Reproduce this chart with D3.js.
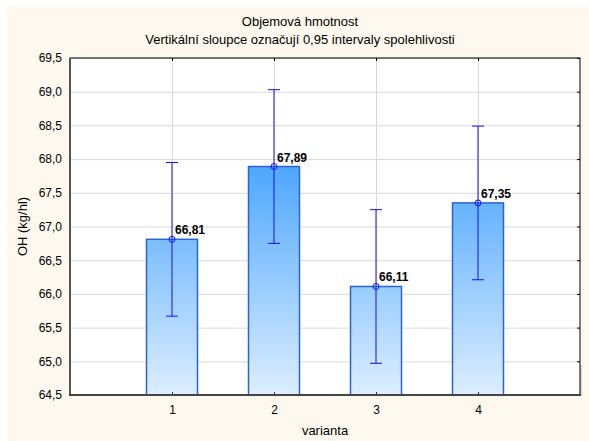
<!DOCTYPE html>
<html>
<head>
<meta charset="utf-8">
<script src="https://cdn.jsdelivr.net/npm/d3@7"></script>
<style>
  body { margin: 0; background: #fff; }
  text { font-family: "Liberation Sans", Arial, sans-serif; font-size: 12px; fill: #000; }
</style>
</head>
<body>
<div id="chart"></div>
<script>
const categories = [1, 2, 3, 4];
const means = [66.81, 67.89, 66.11, 67.35];
const lower = [65.67, 66.75, 64.97, 66.21];
const upper = [67.95, 69.03, 67.25, 68.49];
const yTicks = [64.5, 65.0, 65.5, 66.0, 66.5, 67.0, 67.5, 68.0, 68.5, 69.0, 69.5];
const data = categories.map((c, i) => ({ cat: c, mean: means[i], lo: lower[i], hi: upper[i] }));

const W = 589, H = 441;
const margin = { top: 58, right: 9, bottom: 46, left: 70 };
const width = W - margin.left - margin.right;
const height = H - margin.top - margin.bottom;

const root = d3.select('#chart').append('svg')
  .attr('width', W)
  .attr('height', H);

root.append('rect')
  .attr('x', 7).attr('y', 7)
  .attr('width', W - 7).attr('height', H - 7)
  .attr('fill', '#fdf9ee');

const svg = root.append('g')
  .attr('transform', `translate(${margin.left}, ${margin.top})`);

const xScale = d3.scaleLinear().domain([0, 5]).range([0, width]);
const yScale = d3.scaleLinear().domain([64.5, 69.5]).range([height, 0]);
const barW = (xScale(1) - xScale(0)) * 0.5;
const fmt = v => d3.format('.1f')(v).replace('.', ',');
const fmt2 = v => d3.format('.2f')(v).replace('.', ',');

// gradient over the plot area
const grad = root.append('defs').append('linearGradient')
  .attr('id', 'barGrad')
  .attr('gradientUnits', 'userSpaceOnUse')
  .attr('x1', 0).attr('x2', 0)
  .attr('y1', yScale(68.0)).attr('y2', yScale(64.5));
grad.append('stop').attr('offset', 0).attr('stop-color', '#4aa5fd');
grad.append('stop').attr('offset', 1).attr('stop-color', '#ddeeff');

svg.append('rect')
  .attr('width', width).attr('height', height)
  .attr('fill', '#fff');

// grid
svg.append('g')
  .call(d3.axisLeft(yScale).tickValues(yTicks).tickSize(-width).tickFormat(''))
  .call(g => g.select('.domain').remove())
  .call(g => g.selectAll('line').attr('stroke', '#d9d9d9'));
svg.append('g')
  .attr('transform', `translate(0, ${height})`)
  .call(d3.axisBottom(xScale).tickValues(categories).tickSize(-height).tickFormat(''))
  .call(g => g.select('.domain').remove())
  .call(g => g.selectAll('line').attr('stroke', '#d9d9d9'));

// bars
svg.selectAll('.bar')
  .data(data)
  .enter()
  .append('rect')
  .attr('class', 'bar')
  .attr('x', d => xScale(d.cat) - barW / 2)
  .attr('y', d => yScale(d.mean))
  .attr('width', barW)
  .attr('height', d => height - yScale(d.mean))
  .attr('fill', 'url(#barGrad)')
  .attr('stroke', '#2a64d4')
  .attr('stroke-width', 1.5);

// error bars
const eb = svg.selectAll('.err').data(data).enter().append('g').attr('class', 'err')
  .attr('stroke', '#0f0fff').attr('fill', 'none');
eb.append('line')
  .attr('x1', d => xScale(d.cat)).attr('x2', d => xScale(d.cat))
  .attr('y1', d => yScale(d.lo)).attr('y2', d => yScale(d.hi));
eb.append('line')
  .attr('x1', d => xScale(d.cat) - 6).attr('x2', d => xScale(d.cat) + 6)
  .attr('y1', d => yScale(d.hi)).attr('y2', d => yScale(d.hi));
eb.append('line')
  .attr('x1', d => xScale(d.cat) - 6).attr('x2', d => xScale(d.cat) + 6)
  .attr('y1', d => yScale(d.lo)).attr('y2', d => yScale(d.lo));
eb.append('circle')
  .attr('cx', d => xScale(d.cat)).attr('cy', d => yScale(d.mean))
  .attr('r', 3);

svg.selectAll('.lbl')
  .data(data)
  .enter()
  .append('text')
  .attr('class', 'lbl')
  .attr('x', d => xScale(d.cat) + 3)
  .attr('y', d => yScale(d.mean) - 5)
  .attr('font-weight', 'bold')
  .text(d => fmt2(d.mean));

// axes
const yAxis = svg.append('g')
  .call(d3.axisLeft(yScale).tickValues(yTicks).tickSize(0).tickPadding(8).tickFormat(fmt));
yAxis.select('.domain').remove();
yAxis.selectAll('text').style('font-size', '12px').style('font-family', '"Liberation Sans", Arial, sans-serif');

const xAxis = svg.append('g')
  .attr('transform', `translate(0, ${height})`)
  .call(d3.axisBottom(xScale).tickValues(categories).tickSize(-3).tickPadding(10).tickFormat(d3.format('d')));
xAxis.select('.domain').remove();
xAxis.selectAll('line').attr('stroke', '#333');
xAxis.selectAll('text').style('font-size', '12px').style('font-family', '"Liberation Sans", Arial, sans-serif');

svg.append('g')
  .call(d3.axisTop(xScale).tickValues(categories).tickSize(-3).tickFormat(''))
  .call(g => g.select('.domain').remove())
  .call(g => g.selectAll('line').attr('stroke', '#000'));
svg.append('g')
  .attr('transform', `translate(${width}, 0)`)
  .call(d3.axisRight(yScale).tickValues(yTicks).tickSize(-3).tickFormat(''))
  .call(g => g.select('.domain').remove())
  .call(g => g.selectAll('line').attr('stroke', '#000'));

// frame
svg.append('line').attr('x1', width + 1).attr('x2', width + 1).attr('y1', height - 30).attr('y2', height + 1)
  .attr('stroke', '#bbb').attr('stroke-width', 1);
svg.append('rect')
  .attr('width', width).attr('height', height)
  .attr('fill', 'none').attr('stroke', '#000');
svg.append('line').attr('x1', 0).attr('x2', 0).attr('y1', 0).attr('y2', height + 1)
  .attr('stroke', '#555').attr('stroke-width', 2);
svg.append('line').attr('x1', -1).attr('x2', width + 1).attr('y1', height).attr('y2', height)
  .attr('stroke', '#444').attr('stroke-width', 2);

// titles
root.append('text').attr('x', 300).attr('y', 26).attr('text-anchor', 'middle')
  .style('font-size', '13px').text('Objemová hmotnost');
root.append('text').attr('x', 300).attr('y', 44).attr('text-anchor', 'middle')
  .style('font-size', '13px')
  .text('Vertikální sloupce označují 0,95 intervaly spolehlivosti');
root.append('text').attr('x', margin.left + width / 2).attr('y', 435).attr('text-anchor', 'middle')
  .style('font-size', '13px').text('varianta');
root.append('text')
  .attr('transform', `translate(27, ${margin.top + height / 2}) rotate(-90)`)
  .attr('text-anchor', 'middle')
  .style('font-size', '13px')
  .text('OH (kg/hl)');
</script>
</body>
</html>
